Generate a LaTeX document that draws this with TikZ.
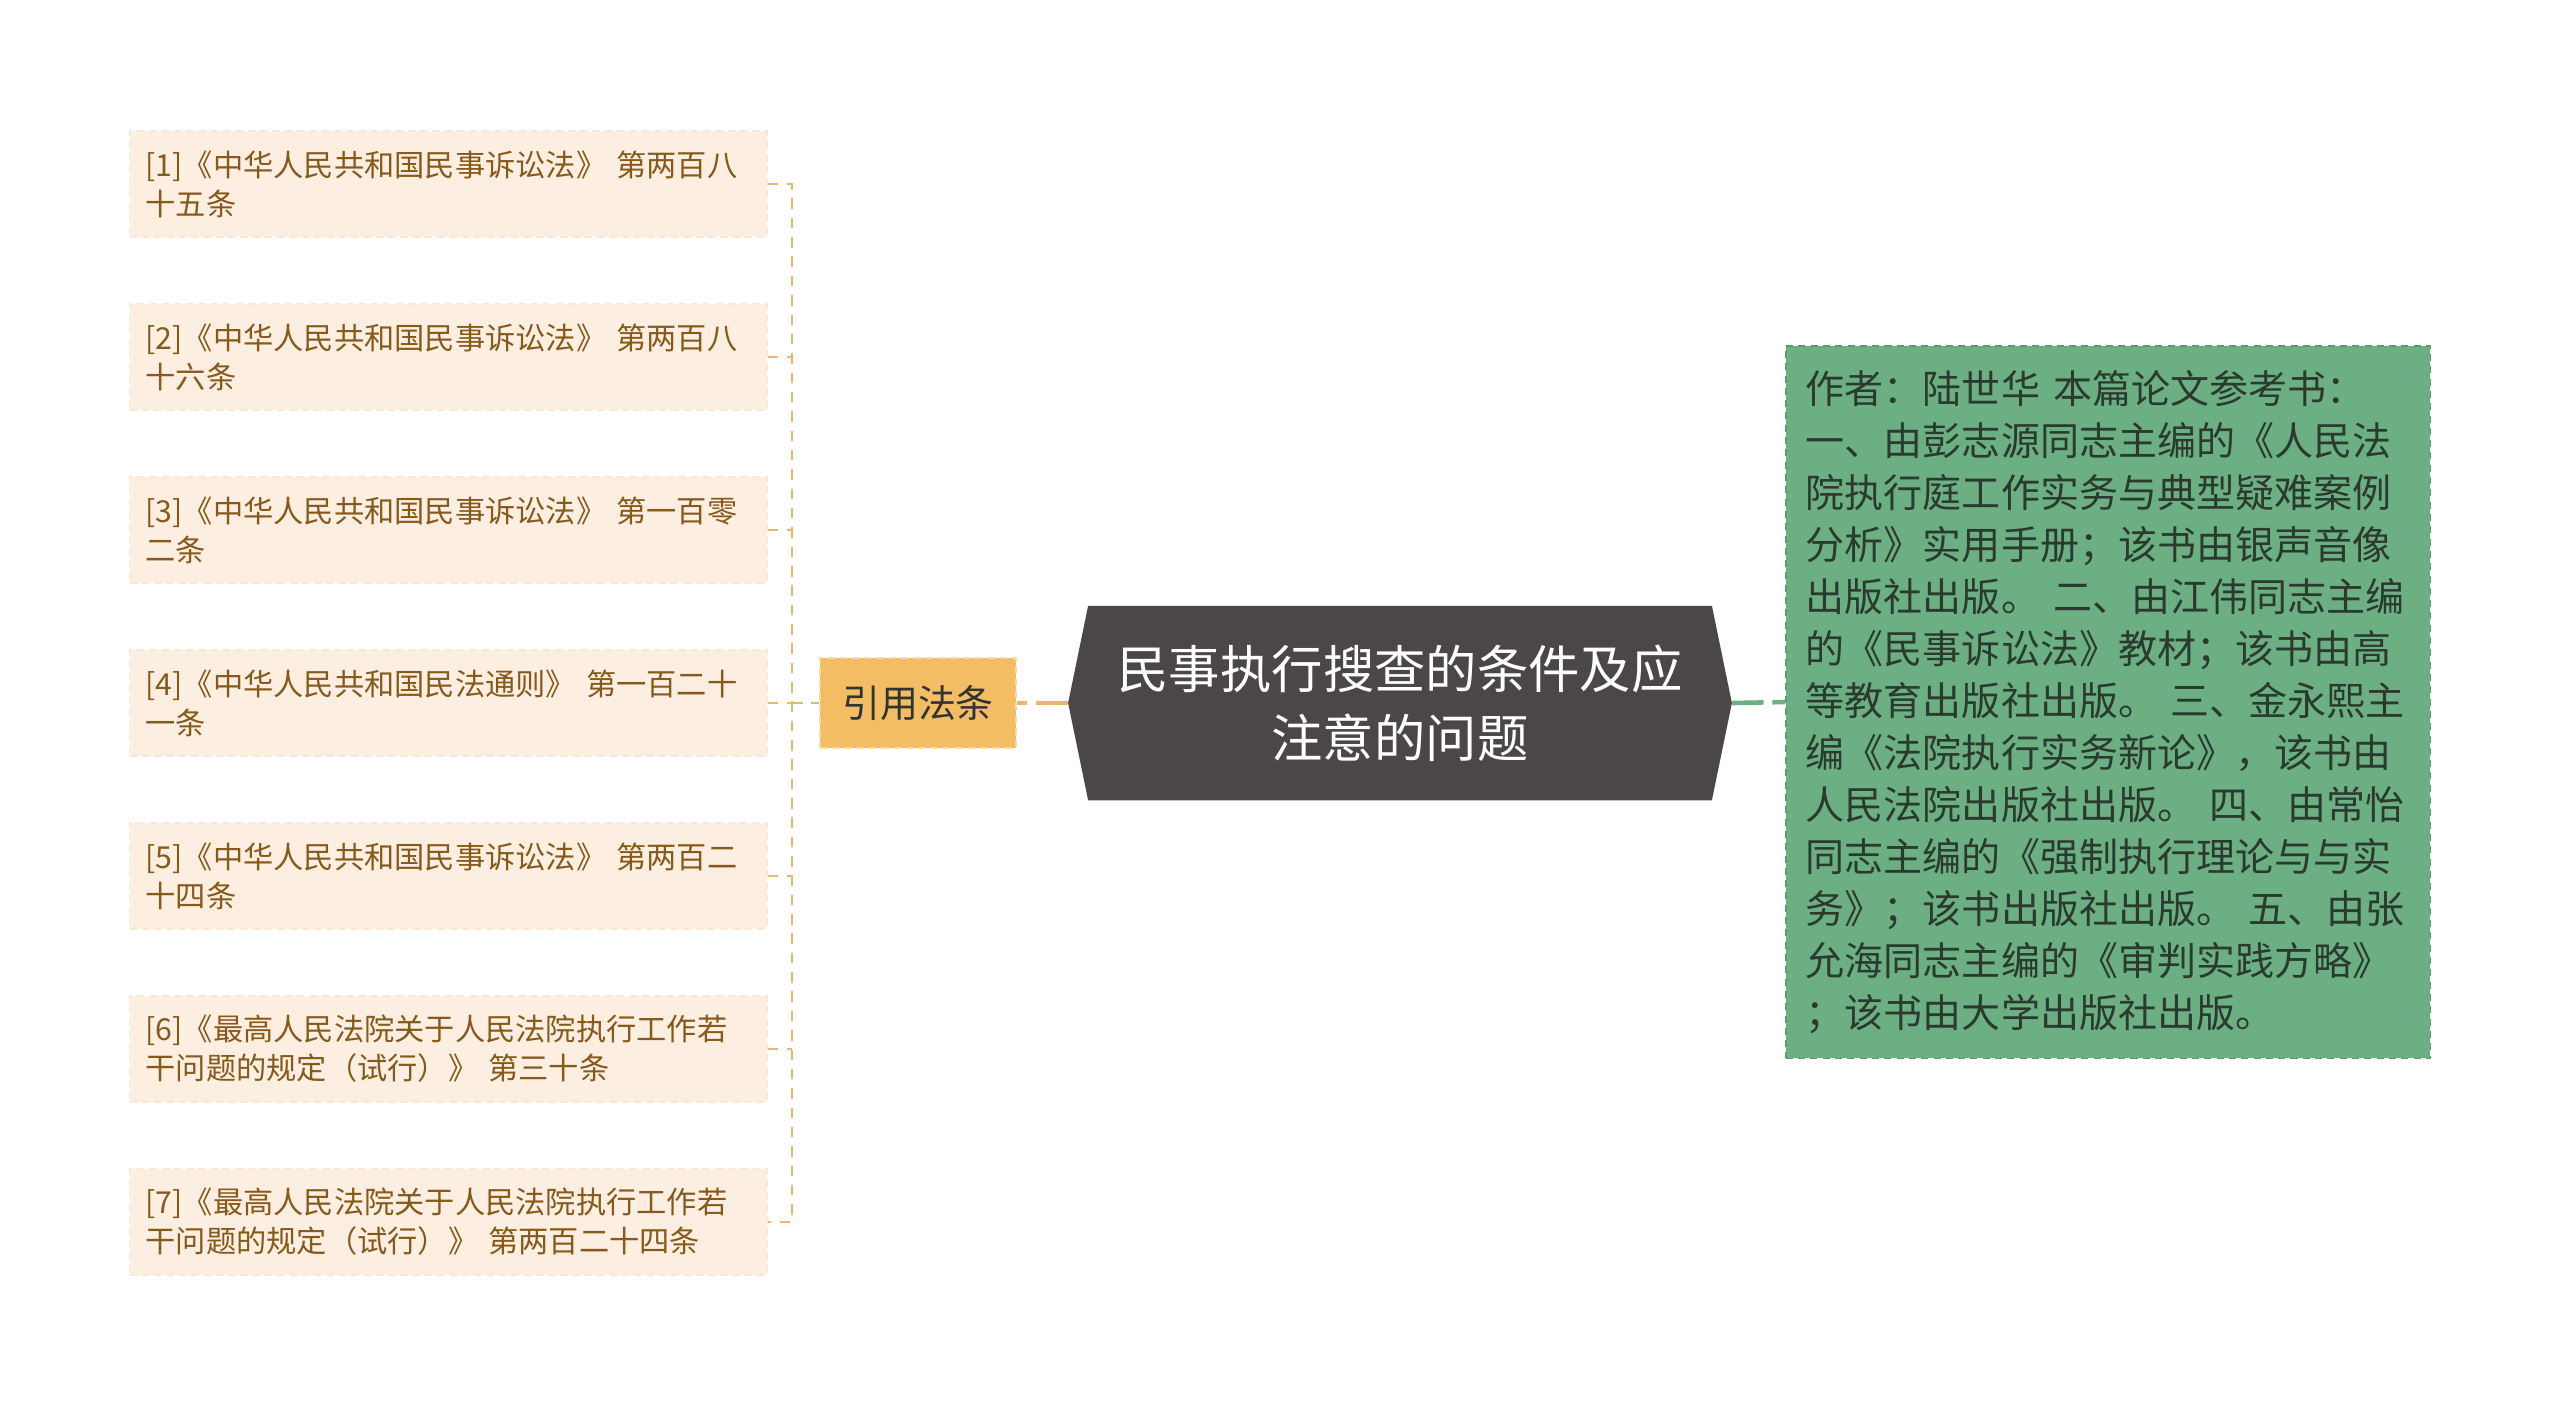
\documentclass[tikz,border=0pt]{standalone}
\usepackage{fontspec}
\setmainfont{Noto Sans CJK SC}
\usetikzlibrary{calc,backgrounds}
\definecolor{refFill}{HTML}{FCEFE1}
\definecolor{refBorder}{HTML}{F9E8D5}
\definecolor{refText}{HTML}{87591A}
\definecolor{citeFill}{HTML}{F2BD63}
\definecolor{citeBorder}{HTML}{F8D9A2}
\definecolor{citeLine}{HTML}{E8B96A}
\definecolor{rootFill}{HTML}{4B4647}
\definecolor{noteFill}{HTML}{6CAF83}
\definecolor{noteBorder}{HTML}{5A9C70}
\definecolor{noteText}{HTML}{2B3A2F}

\begin{document}
\begin{tikzpicture}[x=0.01cm,y=-0.01cm]
	\tikzstyle{every node}+=[inner sep=0pt]
	\tikzstyle{refbox}=[fill=refFill, draw=refBorder, dash pattern=on 2pt off 1.5pt, anchor=west, minimum width=6.37cm, minimum height=1.06cm, text width=6.05cm, inner xsep=0.16cm, align=left, text=refText, font=\fontsize{8.6}{11.1}\selectfont]
	\tikzstyle{citebox}=[fill=citeFill, draw=citeBorder, dash pattern=on 2pt off 1.5pt, minimum width=1.96cm, minimum height=0.9cm, text=black!80, font=\fontsize{10.8}{13}\selectfont]
	\tikzstyle{rootbox}=[minimum width=6.22cm, minimum height=1.93cm, align=center, text=white, font=\fontsize{14.6}{19.5}\selectfont]
	\tikzstyle{notebox}=[fill=noteFill, draw=noteBorder, dash pattern=on 2pt off 1.5pt, minimum width=6.44cm, minimum height=7.12cm, text width=6.04cm, inner xsep=0.2cm, align=left, text=noteText, font=\fontsize{11.1}{14.8}\selectfont]
	\tikzstyle{citeline}=[citeLine, line width=0.7pt, dash pattern=on 3pt off 2.5pt]
	\useasboundingbox (0,0) rectangle (2560,1405);
	\node [refbox] (ref1) at (129,184) {[1]《中华人民共和国民事诉讼法》 第两百八\\十五条};
	\node [refbox] (ref2) at (129,357) {[2]《中华人民共和国民事诉讼法》 第两百八\\十六条};
	\node [refbox] (ref3) at (129,530) {[3]《中华人民共和国民事诉讼法》 第一百零\\二条};
	\node [refbox] (ref4) at (129,703) {[4]《中华人民共和国民法通则》 第一百二十\\一条};
	\node [refbox] (ref5) at (129,876) {[5]《中华人民共和国民事诉讼法》 第两百二\\十四条};
	\node [refbox] (ref6) at (129,1049) {[6]《最高人民法院关于人民法院执行工作若\\干问题的规定（试行）》 第三十条};
	\node [refbox] (ref7) at (129,1222) {[7]《最高人民法院关于人民法院执行工作若\\干问题的规定（试行）》 第两百二十四条};
	\node [citebox] (cite) at (918,703) {引用法条};
	\node [rootbox] (root) at (1400,703) {民事执行搜查的条件及应\\注意的问题};
	\node [notebox] (note) at (2108,702) {作者：陆世华 本篇论文参考书：\\一、由彭志源同志主编的《人民法\\院执行庭工作实务与典型疑难案例\\分析》实用手册；该书由银声音像\\出版社出版。 二、由江伟同志主编\\的《民事诉讼法》教材；该书由高\\等教育出版社出版。 三、金永熙主\\编《法院执行实务新论》，该书由\\人民法院出版社出版。 四、由常怡\\同志主编的《强制执行理论与与实\\务》；该书出版社出版。 五、由张\\允海同志主编的《审判实践方略》\\；该书由大学出版社出版。};
	\coordinate (rootL) at ($(root.west)+(-20,0)$);
	\coordinate (rootR) at ($(root.east)+(20,0)$);
	\coordinate (trunk) at (792,703);
	\begin{scope}[on background layer]
		\fill [white] (0,0) rectangle (2560,1405);
		\fill [rootFill] (root.north west) -- (root.north east) -- (rootR) -- (root.south east) -- (root.south west) -- (rootL) -- cycle;
	\end{scope}
	\draw [citeline] (ref1.east) -- (ref1.east -| trunk) -- (ref7.east -| trunk) -- (ref7.east);
	\draw [citeline] (ref2.east) -- (ref2.east -| trunk);
	\draw [citeline] (ref3.east) -- (ref3.east -| trunk);
	\draw [citeline] (ref4.east) -- (ref4.east -| trunk);
	\draw [citeline] (ref5.east) -- (ref5.east -| trunk);
	\draw [citeline] (ref6.east) -- (ref6.east -| trunk);
	\draw [citeline] (trunk) -- (cite.west);
	\draw [citeLine, line width=1.3pt, dash pattern=on 3pt off 2.5pt on 12pt off 0pt] (cite.east) -- (rootL);
	\draw [noteFill, line width=1.3pt, dash pattern=on 9pt off 2.5pt] (rootR) -- (note.west);
\end{tikzpicture}
\end{document}
